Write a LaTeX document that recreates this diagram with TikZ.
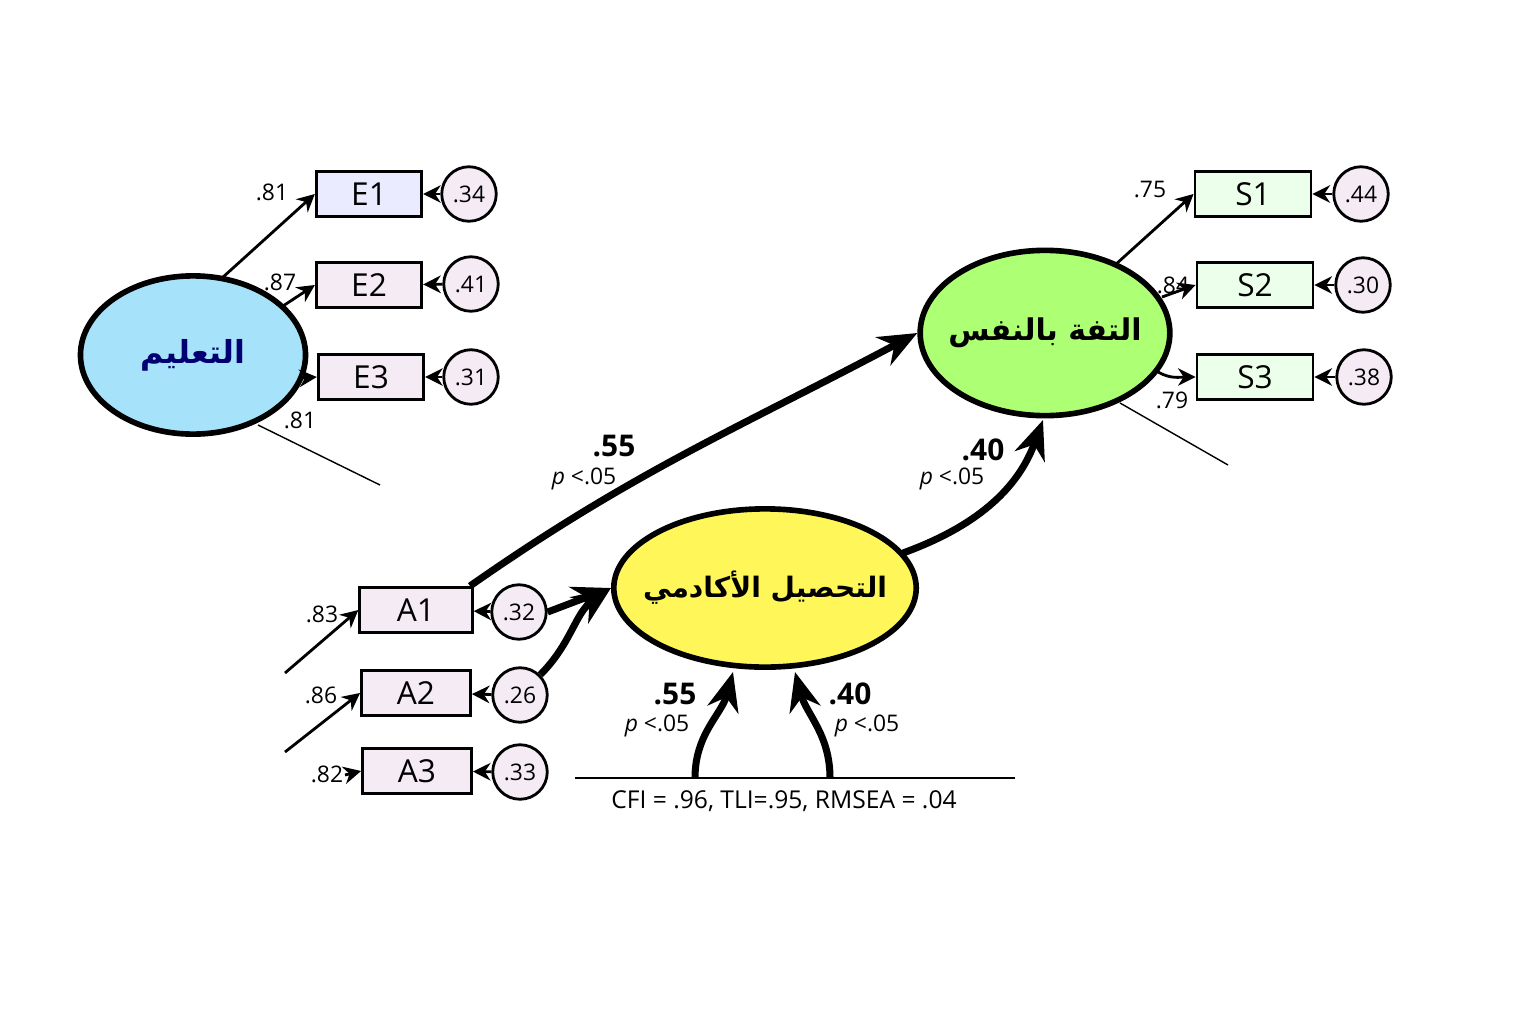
\documentclass[tikz,border=0pt]{standalone}
\usepackage{fontspec}
\setmainfont{Open Sans}
\newfontfamily\arabicfont[Script=Arabic]{DejaVu Sans}
\TeXXeTstate=1
\newcommand{\artxt}[1]{\makebox[0pt]{\arabicfont\bfseries\beginR #1\endR}}
\usetikzlibrary{arrows.meta,shapes.geometric}
\begin{document}
\begin{tikzpicture}[x=0.01cm,y=-0.01cm,
  box/.style={draw,thick,inner sep=0pt,font=\fontsize{9}{10}\selectfont},
  err/.style={circle,draw,thick,fill=violet!8,minimum size=15.5pt,inner sep=0pt,font=\fontsize{6.5}{7}\selectfont},
  lat/.style={ellipse,draw,line width=1.6pt,inner sep=0pt},
  arr/.style={-{Stealth[length=5pt,width=5pt]},thick},
  big/.style={-{Stealth[length=11pt,width=9pt]},line width=2pt},
  lab/.style={font=\fontsize{6.5}{7}\selectfont},
  blab/.style={font=\fontsize{8.5}{9}\selectfont\bfseries},
  plab/.style={font=\fontsize{6.5}{7}\selectfont}]
\useasboundingbox (0,0) rectangle (1536,1024);
\fill[white] (0,0) rectangle (1536,1024);
% latent
\node[lat,fill=cyan!35,minimum width=64pt,minimum height=45pt] (edu) at (193,355) {\fontsize{9}{11}\selectfont\color{blue!45!black}\artxt{التعليم}};
\node[lat,fill=green!45!lime!55,minimum width=71pt,minimum height=47pt] (sc) at (1045,333) {\fontsize{8.5}{11}\selectfont\artxt{التفة بالنفس}};
\node[lat,fill=yellow!65,minimum width=86pt,minimum height=45pt] (ac) at (765,588) {\fontsize{8}{11}\selectfont\artxt{التحصيل الأكادمي}};
% boxes
\tikzset{bx/.style={box,minimum width=30pt,minimum height=13pt}}
\node[bx,fill=blue!8] (E1) at (369,194) {E1};
\node[bx,fill=violet!8] (E2) at (369,285) {E2};
\node[bx,fill=violet!8] (E3) at (371,377) {E3};
\node[bx,fill=green!8,minimum width=33pt] (S1) at (1253,194) {S1};
\node[bx,fill=green!8,minimum width=33pt] (S2) at (1255,285) {S2};
\node[bx,fill=green!8,minimum width=33pt] (S3) at (1255,377) {S3};
\node[bx,fill=violet!8,minimum width=32pt] (A1) at (416,610) {A1};
\node[bx,fill=violet!8,minimum width=31pt] (A2) at (416,693) {A2};
\node[bx,fill=violet!8,minimum width=31pt] (A3) at (417,771) {A3};
% errors
\node[err] (e1) at (469,194) {.34};
\node[err] (e2) at (471,284) {.41};
\node[err] (e3) at (471,377) {.31};
\node[err] (s1) at (1361,194) {.44};
\node[err] (s2) at (1363,285) {.30};
\node[err] (s3) at (1364,377) {.38};
\node[err] (a1) at (519,612) {.32};
\node[err] (a2) at (520,695) {.26};
\node[err] (a3) at (520,772) {.33};
\foreach \a/\b in {e1/E1,e2/E2,e3/E3,s1/S1,s2/S2,s3/S3,a1/A1,a2/A2,a3/A3}
  \draw[arr] (\a) -- (\b);
% loadings
\coordinate (ed1) at (222,278); \coordinate (ed2) at (283,306); \coordinate (ed3) at (303,378);
\draw[arr] (ed1) -- (E1.west); \node[lab] at (272,192) {.81};
\draw[arr] (ed2) -- (E2.west); \node[lab] at (280,282) {.87};
\draw[arr] (ed3) -- (E3.west); \node[lab] at (300,420) {.81};
\coordinate (ef) at (380,485); \draw[thin] (258,425) -- (ef);
\coordinate (sd1) at (1115,265); \coordinate (sd2) at (1162,297); \coordinate (sd3) at (1158,372);
\draw[arr] (sd1) -- (S1.west); \node[lab] at (1150,190) {.75};
\draw[arr] (sd2) -- (S2.west); \node[lab] at (1173,285) {.84};
\draw[arr] (sd3) to[out=-30,in=180] (S3.west); \node[lab] at (1172,400) {.79};
\coordinate (sf) at (1228,465); \draw[thin] (1120,403) -- (sf);
\coordinate (f1) at (285,673); \coordinate (f2) at (285,752); \coordinate (f3) at (345,775);
\draw[arr] (f1) -- (A1.west); \node[lab] at (322,614) {.83};
\draw[arr] (f2) -- (A2.west); \node[lab] at (321,695) {.86};
\draw[arr] (f3) -- (A3.west); \node[lab] at (327,774) {.82};
% structural
\draw[big] (a1.east) -- (ac.west);
\draw[big] (a2.north east) to[out=45,in=215] (ac.west);
\draw[big] (470,586) to[out=35,in=208] (sc.west);
\node[blab] at (614,446) {.55}; \node[plab] at (584,479) {\itshape p\normalfont\ <.05};
\draw[big] (903,553) to[out=20,in=250] (1043,420);
\node[blab] at (983,450) {.40}; \node[plab] at (952,479) {\itshape p\normalfont\ <.05};
\coordinate (b1) at (695,778); \coordinate (b2) at (830,778);
\draw[big] (b1) to[out=90,in=255] (733,672);
\draw[big] (b2) to[out=90,in=285] (795,672);
\node[blab] at (675,694) {.55}; \node[plab] at (657,726) {\itshape p\normalfont\ <.05};
\node[blab] at (850,694) {.40}; \node[plab] at (867,726) {\itshape p\normalfont\ <.05};
\draw[thin] (575,778) -- (1015,778);
\node[font=\fontsize{7}{8}\selectfont] at (784,801) {CFI = .96,\ TLI=.95,\ RMSEA = .04};
\end{tikzpicture}
\end{document}
